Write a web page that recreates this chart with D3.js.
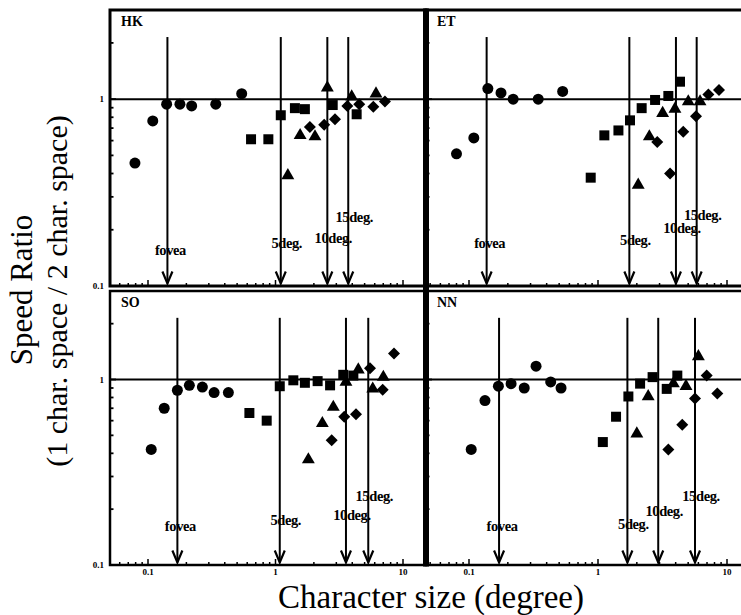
<!DOCTYPE html>
<html>
<head>
<meta charset="utf-8">
<script src="https://cdn.jsdelivr.net/npm/d3@7"></script>
<style>
  html, body { margin: 0; padding: 0; background: #fff; }
  svg { display: block; }
  text { font-family: "Liberation Serif", "Times New Roman", serif; fill: #000; }
</style>
</head>
<body>
<div id="chart"></div>
<script>
// ============================================
// DATA  (x = character size in degrees, y = speed ratio)
// ============================================

const arrowLabels = ['fovea', '5deg.', '10deg.', '15deg.'];
const xTickValues = [0.1, 1, 10];
const xTickLabels = ['0.1', '1', '10'];
const yTickValues = [0.1, 1];
const yTickLabels = ['0.1', '1'];

// HK
const hkCircles = [[0.079, 0.455], [0.109, 0.765], [0.140, 0.94], [0.178, 0.94], [0.220, 0.92], [0.340, 0.94], [0.543, 1.07]];
const hkSquares = [[0.643, 0.61], [0.879, 0.61], [1.10, 0.82], [1.42, 0.895], [1.70, 0.884], [2.81, 0.93], [4.33, 0.83]];
const hkTriangles = [[1.25, 0.39], [1.56, 0.64], [2.04, 0.63], [2.55, 1.15], [3.96, 1.03], [6.14, 1.07]];
const hkDiamonds = [[1.86, 0.71], [2.41, 0.73], [2.93, 0.78], [3.66, 0.92], [4.54, 0.94], [5.85, 0.91], [7.22, 0.97]];
const hkArrows = [0.142, 1.10, 2.55, 3.72];
const hkLabelY = [0.147, 0.160, 0.170, 0.22];

// ET
const etCircles = [[0.080, 0.51], [0.109, 0.62], [0.140, 1.14], [0.177, 1.08], [0.220, 1.0], [0.344, 1.0], [0.532, 1.10]];
const etSquares = [[0.878, 0.38], [1.12, 0.64], [1.44, 0.68], [1.77, 0.77], [2.18, 0.895], [2.77, 0.99], [3.51, 1.04], [4.32, 1.24]];
const etTriangles = [[2.05, 0.347], [2.50, 0.63], [3.17, 0.84], [3.95, 0.885], [5.01, 0.97], [6.18, 0.97]];
const etDiamonds = [[2.88, 0.59], [3.62, 0.40], [4.58, 0.67], [5.75, 0.81], [7.17, 1.06], [8.67, 1.12]];
const etArrows = [0.137, 1.75, 4.02, 5.82];
const etLabelY = [0.160, 0.166, 0.192, 0.226];

// SO
const soCircles = [[0.106, 0.42], [0.134, 0.70], [0.170, 0.875], [0.211, 0.93], [0.267, 0.91], [0.33, 0.85], [0.427, 0.85]];
const soSquares = [[0.624, 0.66], [0.853, 0.60], [1.08, 0.92], [1.38, 0.99], [1.70, 0.96], [2.14, 0.98], [2.68, 0.93], [3.40, 1.06], [4.08, 1.05]];
const soTriangles = [[1.81, 0.37], [2.33, 0.58], [2.84, 0.71], [3.57, 0.97], [4.46, 1.13], [5.79, 0.89], [7.01, 1.03]];
const soDiamonds = [[2.76, 0.47], [3.46, 0.63], [4.28, 0.65], [5.51, 1.15], [6.93, 0.88], [8.5, 1.38]];
const soArrows = [0.170, 1.08, 3.57, 5.34];
const soLabelY = [0.153, 0.164, 0.175, 0.222];

// NN
const nnCircles = [[0.104, 0.42], [0.133, 0.77], [0.169, 0.92], [0.212, 0.95], [0.268, 0.90], [0.331, 1.18], [0.43, 0.97], [0.517, 0.90]];
const nnSquares = [[1.09, 0.46], [1.38, 0.63], [1.72, 0.81], [2.12, 0.95], [2.65, 1.03], [3.41, 0.89], [4.12, 1.05]];
const nnTriangles = [[2.0, 0.51], [2.45, 0.81], [3.84, 0.95], [4.81, 0.92], [6.0, 1.33]];
const nnDiamonds = [[3.51, 0.42], [4.5, 0.57], [5.65, 0.79], [6.96, 1.05], [8.41, 0.84]];
const nnArrows = [0.171, 1.69, 2.93, 5.65];
const nnLabelY = [0.153, 0.157, 0.183, 0.222];

// ============================================
// LAYOUT
// ============================================

const W = 741, H = 615;
// pixel anchors for 0.1 and 10 on each column, plus the frame edges
const cols = [
  { p01: 148, p10: 403, x0: 110, x1: 426 },
  { p01: 469, p10: 727, x0: 426, x1: 760 }
];
const rows = [
  { y0: 10, y1: 286 },
  { y0: 291, y1: 565 }
];

const panels = [
  { name: 'HK', col: 0, row: 0, circles: hkCircles, squares: hkSquares, triangles: hkTriangles, diamonds: hkDiamonds, arrows: hkArrows, labelY: hkLabelY },
  { name: 'ET', col: 1, row: 0, circles: etCircles, squares: etSquares, triangles: etTriangles, diamonds: etDiamonds, arrows: etArrows, labelY: etLabelY },
  { name: 'SO', col: 0, row: 1, circles: soCircles, squares: soSquares, triangles: soTriangles, diamonds: soDiamonds, arrows: soArrows, labelY: soLabelY },
  { name: 'NN', col: 1, row: 1, circles: nnCircles, squares: nnSquares, triangles: nnTriangles, diamonds: nnDiamonds, arrows: nnArrows, labelY: nnLabelY }
];

function makeX(c) {
  const s = d3.scaleLog().domain([0.1, 10]).range([c.p01, c.p10]);
  return d3.scaleLog().domain([s.invert(c.x0), s.invert(c.x1)]).range([c.x0, c.x1]);
}

function makeY(r) {
  return d3.scaleLog().domain([0.1, 3]).range([r.y1, r.y0]);
}

// ============================================
// DRAW
// ============================================

const svg = d3.select('#chart').append('svg')
  .attr('width', W)
  .attr('height', H);

svg.append('rect').attr('width', W).attr('height', H).attr('fill', '#fff');

const symbols = {
  circles: { type: d3.symbolCircle, size: 95, rot: 0 },
  squares: { type: d3.symbolSquare, size: 100, rot: 0 },
  triangles: { type: d3.symbolTriangle, size: 72, rot: 0 },
  diamonds: { type: d3.symbolSquare, size: 72, rot: 45 }
};

panels.forEach(p => {
  const c = cols[p.col], r = rows[p.row];
  const x = makeX(c), y = makeY(r);
  const g = svg.append('g').attr('class', 'panel');

  // minor / major ticks, inward
  const xt = x.ticks();
  g.selectAll('.xtick').data(xt).join('line')
    .attr('x1', d => x(d)).attr('x2', d => x(d))
    .attr('y1', r.y1)
    .attr('y2', d => r.y1 - (xTickValues.includes(d) ? 6 : 3))
    .attr('stroke', '#000').attr('stroke-width', 1.5);

  const yt = y.ticks();
  g.selectAll('.ytick').data(yt).join('line')
    .attr('x1', c.x0).attr('x2', d => c.x0 + (yTickValues.includes(d) ? 6 : 3.5))
    .attr('y1', d => y(d)).attr('y2', d => y(d))
    .attr('stroke', '#000').attr('stroke-width', 1.8);

  // reference line at ratio 1
  g.append('line')
    .attr('x1', c.x0).attr('x2', c.x1)
    .attr('y1', y(1)).attr('y2', y(1))
    .attr('stroke', '#000').attr('stroke-width', 2);

  // eccentricity arrows
  const yTop = y(2.15), yTip = r.y1 - 2.5;
  p.arrows.forEach((a, i) => {
    const ax = x(a);
    g.append('line')
      .attr('x1', ax).attr('x2', ax)
      .attr('y1', yTop).attr('y2', yTip)
      .attr('stroke', '#000').attr('stroke-width', 2);
    g.append('path')
      .attr('d', `M${ax - 5},${yTip - 12}L${ax},${yTip}L${ax + 5},${yTip - 12}`)
      .attr('fill', 'none').attr('stroke', '#000').attr('stroke-width', 2.2);
    g.append('text')
      .attr('x', ax + (i === 0 ? 3 : 6))
      .attr('y', y(p.labelY[i]))
      .attr('text-anchor', 'middle')
      .style('font-size', '14.5px')
      .style('font-weight', 'bold')
      .style('letter-spacing', '-0.4px')
      .text(arrowLabels[i]);
  });

  // data markers
  Object.keys(symbols).forEach(k => {
    const s = symbols[k];
    g.selectAll('.' + k).data(p[k]).join('path')
      .attr('class', k)
      .attr('d', d3.symbol().type(s.type).size(s.size))
      .attr('transform', d => `translate(${x(d[0])},${y(d[1])}) rotate(${s.rot})`)
      .attr('fill', '#000');
  });

  // frame
  g.append('rect')
    .attr('x', c.x0).attr('y', r.y0)
    .attr('width', c.x1 - c.x0).attr('height', r.y1 - r.y0)
    .attr('fill', 'none').attr('stroke', '#000')
    .attr('stroke-width', p.row === 0 ? 3 : 2.5);

  // panel name
  g.append('text')
    .attr('x', c.x0 + 11).attr('y', r.y0 + 16)
    .style('font-size', '14px').style('font-weight', 'bold')
    .text(p.name);

  // tick labels
  if (p.col === 0) {
    g.selectAll('.ylab').data(yTickValues).join('text')
      .attr('x', c.x0 - 6).attr('y', d => y(d) + 3)
      .attr('text-anchor', 'end')
      .style('font-size', '9px').style('font-weight', 'bold')
      .text((d, i) => yTickLabels[i]);
  }
  if (p.row === 1) {
    g.selectAll('.xlab').data(xTickValues).join('text')
      .attr('x', d => x(d)).attr('y', r.y1 + 10)
      .attr('text-anchor', 'middle')
      .style('font-size', '9px').style('font-weight', 'bold')
      .text((d, i) => xTickLabels[i]);
  }
});

// thick divider between columns
svg.append('line')
  .attr('x1', 426).attr('x2', 426)
  .attr('y1', rows[0].y0 - 1.5).attr('y2', rows[1].y1 + 1.5)
  .attr('stroke', '#000').attr('stroke-width', 6);

// axis titles
svg.append('text')
  .attr('transform', 'translate(32,290) rotate(-90)')
  .attr('text-anchor', 'middle')
  .style('font-size', '31px')
  .text('Speed Ratio');

svg.append('text')
  .attr('transform', 'translate(67,291) rotate(-90)')
  .attr('text-anchor', 'middle')
  .style('font-size', '30px')
  .text('(1 char. space / 2 char. space)');

svg.append('text')
  .attr('x', 431).attr('y', 608)
  .attr('text-anchor', 'middle')
  .style('font-size', '33px')
  .text('Character size (degree)');
</script>
</body>
</html>
